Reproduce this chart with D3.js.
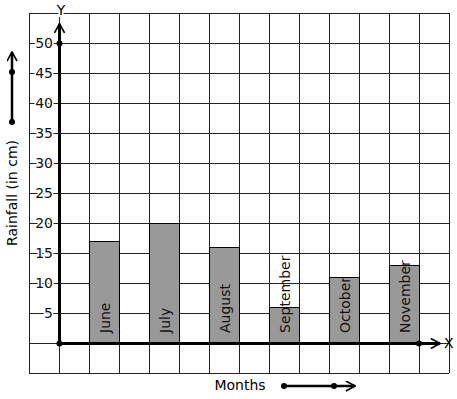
<!DOCTYPE html>
<html>
<head>
<meta charset="utf-8">
<script src="https://d3js.org/d3.v7.min.js"></script>
<style>
  body { margin: 0; background: #fff; }
  text { font-family: "DejaVu Sans", sans-serif; }
</style>
</head>
<body>
<script>
  // chart data
  var months = ["June", "July", "August", "September", "October", "November"];
  var rainfall = [17, 20, 16, 6, 11, 13];
  var yTicks = [5, 10, 15, 20, 25, 30, 35, 40, 45, 50];

  var width = 457, height = 399;

  var svg = d3.select("body").append("svg")
      .attr("width", width)
      .attr("height", height);

  // grid is 14 x 12 cells of 30px, y axis sits on column 1
  var x = d3.scaleLinear().domain([-1, 13]).range([29, 449]);
  var y = d3.scaleLinear().domain([-5, 55]).range([373, 13]);

  var defs = svg.append("defs");
  defs.append("marker")
      .attr("id", "arr")
      .attr("viewBox", "0 0 12 12")
      .attr("refX", 11).attr("refY", 6)
      .attr("markerWidth", 11).attr("markerHeight", 11)
      .attr("markerUnits", "userSpaceOnUse")
      .attr("orient", "auto")
    .append("path")
      .attr("d", "M1,0.5 L11,6 L1,11.5")
      .attr("fill", "none")
      .attr("stroke", "#000")
      .attr("stroke-width", 1.8);

  var grid = svg.append("g").attr("stroke", "#222").attr("stroke-width", 1);
  grid.selectAll(".v").data(d3.range(-1, 14)).enter().append("line")
      .attr("x1", function(d) { return x(d) + 0.5; })
      .attr("x2", function(d) { return x(d) + 0.5; })
      .attr("y1", y(55)).attr("y2", y(-5));
  grid.selectAll(".h").data(d3.range(-5, 60, 5)).enter().append("line")
      .attr("y1", function(d) { return y(d) + 0.5; })
      .attr("y2", function(d) { return y(d) + 0.5; })
      .attr("x1", x(-1)).attr("x2", x(13));

  // bars
  svg.selectAll(".bar").data(rainfall).enter().append("rect")
      .attr("x", function(d, i) { return x(1 + 2 * i) + 0.5; })
      .attr("width", x(2) - x(1))
      .attr("y", function(d) { return y(d) + 0.5; })
      .attr("height", function(d) { return y(0) - y(d); })
      .attr("fill", "#999")
      .attr("stroke", "#000")
      .attr("stroke-width", 1);

  svg.selectAll(".mlab").data(months).enter().append("text")
      .attr("transform", function(d, i) {
        return "translate(" + (x(1.5 + 2 * i) + 5.5) + "," + (y(0) - 10) + ")rotate(-90)";
      })
      .style("font-size", "14px")
      .attr("fill", "#111")
      .text(function(d) { return d; });

  // y tick labels
  var yAxis = svg.append("g")
      .attr("transform", "translate(" + x(0) + ",0)")
      .call(d3.axisLeft(y).tickValues(yTicks).tickSize(0).tickPadding(6));
  yAxis.select(".domain").remove();
  yAxis.selectAll("text")
      .style("font-family", "DejaVu Sans, sans-serif")
      .style("font-size", "14px")
      .attr("fill", "#111")
      .attr("stroke", "#fff")
      .attr("stroke-width", 3)
      .attr("paint-order", "stroke");

  // axes lines
  svg.append("line")
      .attr("x1", x(0) + 0.5).attr("x2", x(0) + 0.5)
      .attr("y1", y(0)).attr("y2", y(53.2))
      .attr("stroke", "#000").attr("stroke-width", 3)
      .attr("marker-end", "url(#arr)");
  svg.append("line")
      .attr("x1", x(0)).attr("x2", 440)
      .attr("y1", y(0) + 0.5).attr("y2", y(0) + 0.5)
      .attr("stroke", "#000").attr("stroke-width", 3)
      .attr("marker-end", "url(#arr)");

  svg.append("circle").attr("cx", x(0) + 0.5).attr("cy", y(0) + 0.5).attr("r", 3);
  svg.append("circle").attr("cx", x(0) + 0.5).attr("cy", y(50) + 0.5).attr("r", 3);
  svg.append("circle").attr("cx", x(12)).attr("cy", y(0) + 0.5).attr("r", 3);

  svg.append("text")
      .attr("x", x(0) + 2).attr("y", 15)
      .attr("text-anchor", "middle")
      .style("font-size", "14px")
      .attr("stroke", "#fff").attr("stroke-width", 4).attr("paint-order", "stroke")
      .text("Y");
  svg.append("text")
      .attr("x", 444).attr("y", y(0) + 5)
      .style("font-size", "14px")
      .text("X");

  // axis titles
  svg.append("text")
      .attr("transform", "translate(17,193)rotate(-90)")
      .attr("text-anchor", "middle")
      .style("font-size", "14px")
      .text("Rainfall (in cm)");
  svg.append("text")
      .attr("x", 240).attr("y", 390)
      .attr("text-anchor", "middle")
      .style("font-size", "14px")
      .text("Months");

  // side arrows
  svg.append("line")
      .attr("x1", 12).attr("x2", 12).attr("y1", 122).attr("y2", 52)
      .attr("stroke", "#000").attr("stroke-width", 2.5)
      .attr("marker-end", "url(#arr)");
  svg.append("circle").attr("cx", 12).attr("cy", 122).attr("r", 3);
  svg.append("circle").attr("cx", 12).attr("cy", 72).attr("r", 3);

  svg.append("line")
      .attr("x1", 284).attr("x2", 355).attr("y1", 386).attr("y2", 386)
      .attr("stroke", "#000").attr("stroke-width", 2.5)
      .attr("marker-end", "url(#arr)");
  svg.append("circle").attr("cx", 284).attr("cy", 386).attr("r", 3);
  svg.append("circle").attr("cx", 334).attr("cy", 386).attr("r", 3);
</script>
</body>
</html>
